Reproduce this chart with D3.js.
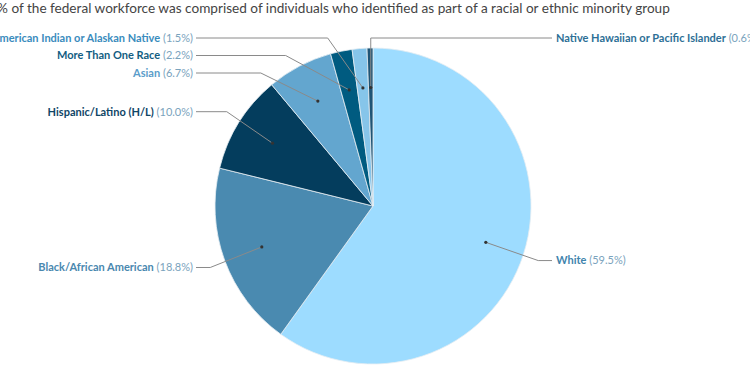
<!DOCTYPE html>
<html>
<head>
<meta charset="utf-8">
<script src="https://cdn.jsdelivr.net/npm/d3@7"></script>
<style>
  body { margin: 0; background: #fff; }
  svg { display: block; font-family: "Lato", "Open Sans", sans-serif; }
</style>
</head>
<body>
<div id="chart"></div>
<script>
// slices, clockwise from 12 o'clock
const groups = ["White", "Black/African American", "Hispanic/Latino (H/L)", "Asian", "More Than One Race", "American Indian or Alaskan Native", "Native Hawaiian or Pacific Islander"];
const shares = [59.5, 18.8, 10.0, 6.7, 2.2, 1.5, 0.6];
const sliceColors = ["#9ddcff", "#4a8ab0", "#043d5d", "#63a6cf", "#005b80", "#86c5ea", "#1f5576"];
const labelColors = ["#3f84ad", "#4a88af", "#0f4566", "#5a9dca", "#125d82", "#3a8cbd", "#2d6f96"];
const title = "% of the federal workforce was comprised of individuals who identified as part of a racial or ethnic minority group";

const width = 750, height = 375;
const cx = 373, cy = 206, r = 158;

const svg = d3.select("#chart").append("svg").attr("width", width).attr("height", height);

svg.append("text")
    .attr("x", -3).attr("y", 13)
    .attr("font-size", "13.6px")
    .attr("fill", "#444")
    .text(title);

const data = groups.map((g, i) => ({ name: g, value: shares[i], color: sliceColors[i], labelColor: labelColors[i] }));

const pie = d3.pie().sort(null).value(d => d.value);
const arcs = pie(data);
const arc = d3.arc().innerRadius(0).outerRadius(r);

const g = svg.append("g").attr("transform", `translate(${cx},${cy})`);

g.selectAll("path.slice")
    .data(arcs)
    .enter().append("path")
    .attr("class", "slice")
    .attr("d", arc)
    .attr("fill", d => d.data.color)
    .attr("stroke", "#e6eef3")
    .attr("stroke-width", 0.8);

// label layout
const dotR = r * 0.75, labelR = r + 20, elbowR = r + 16;
const topY = 38 - cy, spacing = 17.5;
arcs.forEach(d => {
    d.mid = (d.startAngle + d.endAngle) / 2;
    d.dx = Math.sin(d.mid) * dotR;
    d.dy = -Math.cos(d.mid) * dotR;
    d.right = Math.sin(d.mid) >= 0 || d.mid > Math.PI * 1.98;
    d.ly = -Math.cos(d.mid) * labelR;
});
// push apart, top labels clamped to the top row
[arcs.filter(d => d.right), arcs.filter(d => !d.right)].forEach(side => {
    side.sort((a, b) => a.ly - b.ly);
    let prev = -Infinity;
    side.forEach(d => {
        d.ly = Math.max(d.ly, topY, prev + spacing);
        prev = d.ly;
    });
});
arcs.forEach(d => {
    const yy = Math.max(-elbowR, Math.min(elbowR, d.ly));
    let ex = Math.sqrt(elbowR * elbowR - yy * yy) * (d.right ? 1 : -1);
    if (Math.abs(d.dx) < 5) ex = d.dx;
    d.ex = ex;
    d.lx = d.right ? 179 : -177;
});

const labels = g.selectAll("g.label").data(arcs).enter().append("g").attr("class", "label");

labels.append("polyline")
    .attr("points", d => [[d.dx, d.dy], [d.ex, d.ly], [d.lx, d.ly]].map(p => p.join(",")).join(" "))
    .attr("fill", "none")
    .attr("stroke", "#8a8a8a")
    .attr("stroke-width", 1);

labels.append("circle")
    .attr("cx", d => d.dx).attr("cy", d => d.dy)
    .attr("r", 1.6)
    .attr("fill", "#333");

const txt = labels.append("text")
    .attr("x", d => d.right ? d.lx + 4 : d.lx - 3)
    .attr("y", d => d.ly)
    .attr("dy", "0.35em")
    .attr("text-anchor", d => d.right ? "start" : "end")
    .attr("font-size", "11px");
txt.append("tspan")
    .attr("font-weight", "bold")
    .attr("fill", d => d.data.labelColor)
    .text(d => d.data.name);
txt.append("tspan")
    .attr("fill", "#7aa3bd")
    .text(d => ` (${d.data.value.toFixed(1)}%)`);
</script>
</body>
</html>
